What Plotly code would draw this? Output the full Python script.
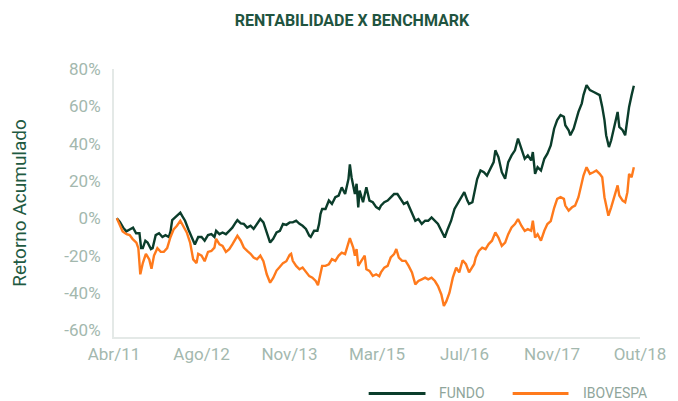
import plotly.graph_objects as go

# ---------------- data ----------------
# x: trading-day index since Abr/11 ; y: cumulative return in %
fundo_dia = [10, 21, 33, 44, 56, 68, 79, 91, 97, 103, 112, 120, 132, 138, 149, 161, 173, 184, 196, 202,
             208, 219, 231, 237, 243, 254, 266, 278, 289, 301, 313, 324, 336, 348, 359, 365, 377, 388, 400, 412,
             423, 435, 441, 453, 464, 476, 488, 499, 511, 523, 534, 546, 558, 569, 581, 593, 604, 616, 628, 639,
             651, 663, 674, 686, 698, 703, 715, 727, 733, 738, 744, 756, 768, 779, 791, 803, 814, 826, 838, 843,
             849, 861, 867, 873, 878, 890, 902, 913, 925, 937, 948, 954, 966, 978, 989, 1001, 1013, 1024, 1036, 1048,
             1059, 1071, 1077, 1088, 1100, 1112, 1123, 1135, 1147, 1158, 1170, 1182, 1193, 1205, 1217, 1228, 1240, 1252, 1263, 1269,
             1281, 1293, 1298, 1310, 1322, 1333, 1345, 1357, 1363, 1374, 1386, 1398, 1409, 1421, 1433, 1444, 1456, 1468, 1479, 1491,
             1497, 1505, 1514, 1526, 1538, 1549, 1561, 1573, 1584, 1596, 1608, 1613, 1625, 1631, 1643, 1648, 1660, 1672, 1678, 1689,
             1701, 1713, 1724, 1736, 1745, 1753, 1759, 1769, 1777, 1788, 1800, 1806, 1818, 1827, 1835, 1841, 1850, 1858]
fundo_ret = [0, -2, -5, -7, -6, -5, -8, -8, -16, -16, -12, -13, -16.5, -16, -9, -8, -10, -9, -10, -7,
             -1, 0.5, 2.3, 3, 1.4, -1.3, -6, -10, -14, -10, -10, -12, -9, -8.5, -10, -6.7, -8.5, -7.6, -8.5, -6.7,
             -5, -2.2, -1, -2.7, -3, -5, -4, -5.7, -3, -0.4, -2.2, -7.6, -13, -11, -7.6, -6.7, -3, -3.5, -2.2, -2.2,
             -1.3, -3, -4, -5.7, -9.4, -10, -6.7, -6.7, -3, 2.3, 5, 5, 9.5, 7.7, 11.3, 12.2, 16.6, 13, 21, 28.9,
             22, 13, 18.5, 5.9, 14.9, 8.6, 16.6, 9.5, 8.6, 6, 5, 6.8, 8.6, 9.5, 11.3, 13, 13, 10.4, 7.7, 8.6,
             5, 1.4, -1.3, -0.4, -3, -1.3, -1.3, 0.5, -1.3, -3, -6.7, -10.3, -5.7, -1.3, 5, 7.7, 10.4, 14, 9.5, 7.7,
             8.6, 16.6, 21, 25.6, 24.7, 22.9, 26.5, 30.1, 36.4, 32.8, 24.7, 21.2, 30.1, 33.7, 36.4, 42.7, 37.3, 31.9, 33.7, 31,
             35.5, 23.8, 27.4, 25.6, 31.9, 34.6, 39, 48, 52.6, 55.3, 54.4, 49.9, 47.2, 44.5, 48.1, 50.8, 57, 61.6, 66, 71.4,
             68.7, 67.8, 66.9, 66, 59.7, 52.6, 44.5, 38.2, 41.8, 49.9, 57, 49, 47.2, 44.5, 52.6, 59.7, 66, 71]

ibov_dia = [10, 21, 31, 45, 56, 66, 80, 87, 94, 103, 108, 114, 126, 134, 143, 155, 167, 178, 190, 202,
            213, 225, 237, 248, 260, 272, 283, 295, 301, 313, 324, 336, 348, 359, 365, 377, 388, 400, 412, 423,
            435, 441, 453, 464, 476, 488, 499, 511, 523, 534, 546, 558, 569, 581, 593, 604, 616, 628, 633, 639,
            651, 663, 674, 686, 698, 709, 721, 729, 738, 744, 756, 768, 779, 791, 803, 814, 826, 838, 843, 855,
            861, 867, 873, 884, 896, 902, 913, 925, 937, 948, 954, 966, 978, 989, 1001, 1009, 1018, 1030, 1042, 1053,
            1065, 1077, 1088, 1100, 1112, 1123, 1135, 1147, 1158, 1170, 1179, 1188, 1199, 1211, 1223, 1234, 1246, 1258, 1269, 1287,
            1293, 1304, 1316, 1328, 1339, 1351, 1363, 1374, 1386, 1398, 1409, 1421, 1433, 1444, 1456, 1468, 1479, 1491, 1497, 1505,
            1514, 1526, 1538, 1549, 1561, 1573, 1584, 1596, 1608, 1613, 1625, 1637, 1648, 1660, 1672, 1678, 1689, 1701, 1713, 1724,
            1736, 1745, 1753, 1759, 1767, 1777, 1788, 1800, 1806, 1818, 1827, 1835, 1841, 1850, 1858]
ibov_ret = [0, -4, -7, -8.5, -9, -11, -13, -16, -30, -24, -22, -19, -22, -27, -20, -16, -18, -18, -16, -10,
            -6, -4, -1.3, -4, -7.6, -13, -22, -24, -19, -20, -23, -18, -17.5, -15.7, -11, -14, -14.8, -18, -16.5, -14,
            -11, -9.4, -12, -15.7, -17.5, -19, -21, -22, -20, -23, -30, -34.5, -32, -28, -26, -24, -23, -19.5, -19, -22.8,
            -25.5, -27.3, -26.4, -29, -31, -31.8, -33.6, -35.8, -29, -25.5, -25.5, -24.6, -21.9, -22.8, -20, -18.4, -19.2, -13.8, -10.6, -15.7,
            -20, -16.5, -25.5, -22.8, -20, -27.3, -28.2, -30.9, -30, -31, -29, -26.4, -25.5, -21, -19.2, -16.5, -21, -22.8, -22.8, -25.5,
            -29, -35.4, -33.6, -32.7, -31.8, -32.7, -31.8, -33.6, -36.3, -40.8, -47, -44.4, -39.9, -31.8, -26.5, -29, -22.5, -24.6, -29, -24.6,
            -21, -17.5, -15.7, -16.5, -13.8, -12, -7.6, -10.3, -14.8, -13, -8.5, -4.9, -3.1, -0.4, -4, -6.7, -5.8, -6.7, -1.3, -10.3,
            -8.5, -12, -6.7, -3.1, -1.5, 5.5, 10.4, 11.3, 10.4, 6.8, 4.1, 5.9, 6.8, 11.3, 19.3, 22.9, 27.4, 23.8, 24.7, 25.6,
            23.8, 22, 11.3, 7.7, 1.4, 5.9, 12.2, 17.6, 12.2, 9.5, 8.6, 14, 23.8, 22, 27.4]

tick_dias = [0, 313, 627, 940, 1253, 1566, 1880]
tick_rotulos = ["Abr/11", "Ago/12", "Nov/13", "Mar/15", "Jul/16", "Nov/17", "Out/18"]
y_ticks = [80, 60, 40, 20, 0, -20, -40, -60]
y_rotulos = ["80%", "60%", "40%", "20%", "0%", "-20%", "-40%", "-60%"]

serie_nomes = ["FUNDO", "IBOVESPA"]
cor_fundo = "#0b3d2b"
cor_ibov = "#ff7a1c"

# ---------------- layout geometry (pixels) ----------------
W, H = 678, 401
L, R, T, B = 114, 651, 69, 337.5


def px_x(px):
    return (px - L) / (R - L)


def px_y(py):
    return (B - py) / (B - T)


fig = go.Figure()
fig.add_trace(go.Scatter(x=fundo_dia, y=fundo_ret, mode="lines", name=serie_nomes[0],
                         line=dict(color=cor_fundo, width=2.4), showlegend=False))
fig.add_trace(go.Scatter(x=ibov_dia, y=ibov_ret, mode="lines", name=serie_nomes[1],
                         line=dict(color=cor_ibov, width=2.4), showlegend=False))

font_fam = "Roboto, DejaVu Sans, sans-serif"
tick_col = "#a3b8ae"

fig.update_layout(
    width=W, height=H,
    margin=dict(l=L, r=W - R, t=T, b=H - B),
    paper_bgcolor="white", plot_bgcolor="white",
    title=dict(text="<b>RENTABILIDADE X BENCHMARK</b>", x=352 / W, xanchor="center",
               y=1 - 20 / H, yanchor="middle", yref="container",
               font=dict(family=font_fam, size=16, color="#1f5440")),
    xaxis=dict(range=[0, 1880], tickvals=tick_dias, ticktext=tick_rotulos,
               showgrid=False, zeroline=False, showline=True, linecolor="#e4e9e7", linewidth=2,
               ticks="", ticklabelstandoff=1,
               tickfont=dict(family=font_fam, size=17, color=tick_col)),
    yaxis=dict(range=[-63.6, 80], tickvals=y_ticks, ticktext=y_rotulos,
               showgrid=False, zeroline=False, showline=True, linecolor="#e4e9e7", linewidth=2,
               ticks="", ticklabelstandoff=8,
               tickfont=dict(family=font_fam, size=17, color=tick_col)),
    showlegend=False,
)

# y-axis title
fig.add_annotation(text="Retorno Acumulado", textangle=-90, xref="paper", yref="paper",
                   x=px_x(18), y=px_y(203), xanchor="center", yanchor="middle", showarrow=False,
                   font=dict(family=font_fam, size=19, color="#1f5a42"))

# legend (drawn below the plot)
leg_y = px_y(394)
for (x0, x1, tx), nome, cor in zip([(374, 432, 444), (521, 578, 591)], serie_nomes, [cor_fundo, cor_ibov]):
    fig.add_shape(type="line", xref="paper", yref="paper", x0=px_x(x0), x1=px_x(x1), y0=leg_y, y1=leg_y,
                  line=dict(color=cor, width=3))
    fig.add_annotation(text=nome, xref="paper", yref="paper", x=px_x(tx), y=leg_y,
                       xanchor="left", yanchor="middle", showarrow=False,
                       font=dict(family=font_fam, size=14, color="#8fa59b"))

fig.write_html("out.html", config={"displayModeBar": False},
               post_script="document.body.style.margin='0px';")
